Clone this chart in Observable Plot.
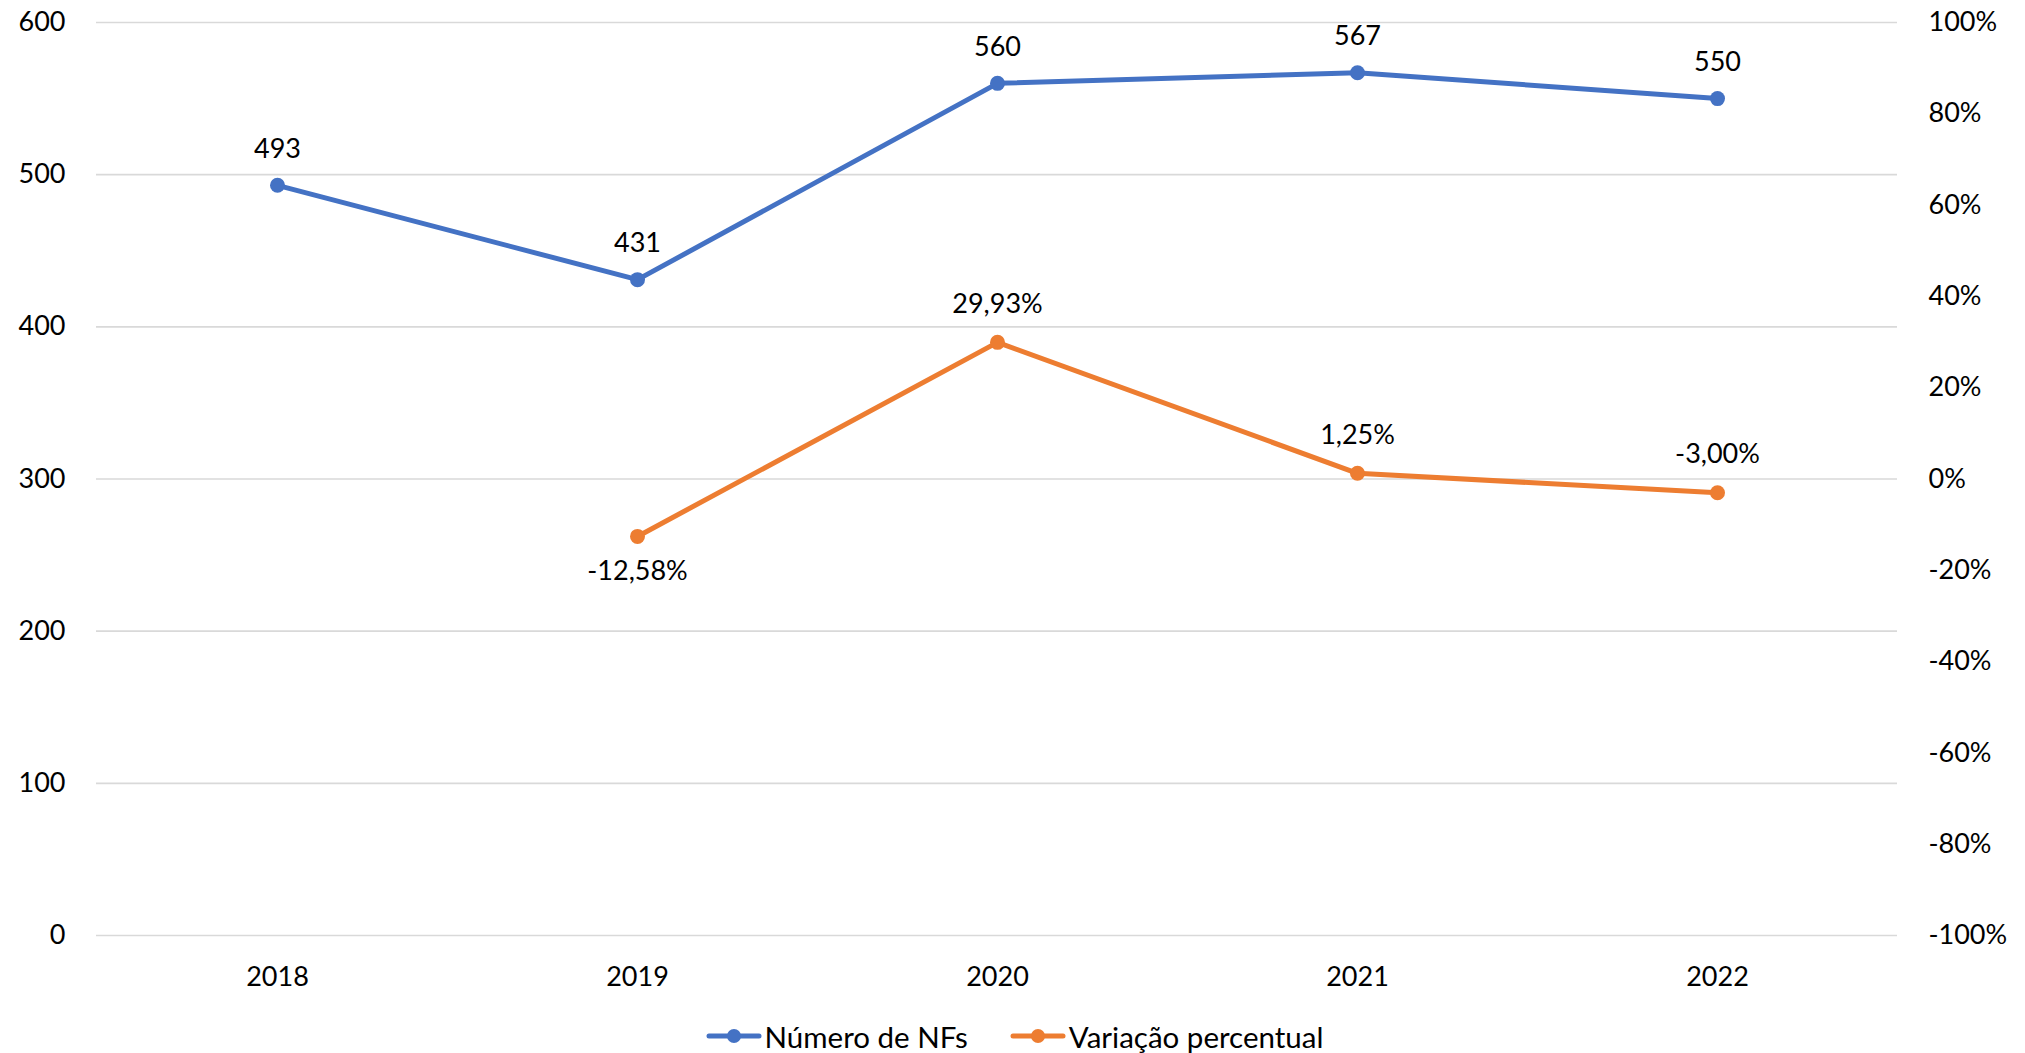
<!DOCTYPE html>
<html>
<head>
<meta charset="utf-8">
<script src="https://cdn.jsdelivr.net/npm/d3@7"></script>
<script src="https://cdn.jsdelivr.net/npm/@observablehq/plot@0.6"></script>
<style>
  html, body { margin: 0; padding: 0; background: #fff; }
  body { width: 2025px; height: 1053px; overflow: hidden; font-family: Lato, "Noto Sans", sans-serif; }
  #legend { display: flex; justify-content: center; align-items: center; height: 52px; font-size: 29.5px; color: #000; margin-left: 4px; }
  .item { display: flex; align-items: center; margin: 0 21px; }
  .item svg { margin-right: 3px; }
</style>
</head>
<body>
<div id="chart"></div>
<div id="legend"></div>
<script>
const years = ["2018", "2019", "2020", "2021", "2022"];
const nfs = [493, 431, 560, 567, 550];
const variacao = [null, -12.58, 29.93, 1.25, -3.00];
const leftTicks = [0, 100, 200, 300, 400, 500, 600];
const rightTicks = [-100, -80, -60, -40, -20, 0, 20, 40, 60, 80, 100];
const seriesNames = ["Número de NFs", "Variação percentual"];
const colors = ["#4472C4", "#ED7D31"];

// map percentage onto the left scale's domain (−100%..100% ↔ 0..600)
const pctToLeft = p => (p + 100) * 3;
const leftToPct = v => v / 3 - 100;

const blue = years.map((y, i) => ({year: y, v: nfs[i], label: String(nfs[i])}));
const orange = years.map((y, i) => ({year: y, p: variacao[i]}))
  .filter(d => d.p != null)
  .map(d => ({year: d.year, v: pctToLeft(d.p), label: d.p.toFixed(2).replace(".", ",") + "%", below: d.p === -12.58}));

const chart = Plot.plot({
  width: 2025,
  height: 1010,
  marginLeft: 96,
  marginRight: 128,
  marginTop: 22,
  marginBottom: 75,
  style: {fontFamily: "Lato, 'Noto Sans', sans-serif", fontSize: "27px", color: "#000", background: "#fff"},
  x: {type: "point", domain: years, padding: 0.5},
  y: {domain: [0, 600]},
  marks: [
    Plot.ruleY(leftTicks, {stroke: "#D9D9D9", strokeWidth: 1.6}),
    Plot.axisY(leftTicks, {anchor: "left", tickSize: 0, tickPadding: 31, fontSize: 27, label: null}),
    Plot.axisY(rightTicks.map(pctToLeft), {anchor: "right", tickSize: 0, tickPadding: 31, fontSize: 27, label: null, textAnchor: "start",
      tickFormat: v => Math.round(leftToPct(v)) + "%"}),
    Plot.axisX(years, {anchor: "bottom", tickSize: 0, tickPadding: 31, fontSize: 27, label: null}),
    Plot.line(blue, {x: "year", y: "v", stroke: colors[0], strokeWidth: 5, strokeLinejoin: "round"}),
    Plot.dot(blue, {x: "year", y: "v", r: 7.5, fill: colors[0]}),
    Plot.line(orange, {x: "year", y: "v", stroke: colors[1], strokeWidth: 5, strokeLinejoin: "round"}),
    Plot.dot(orange, {x: "year", y: "v", r: 7.5, fill: colors[1]}),
    Plot.text(blue, {x: "year", y: "v", text: "label", dy: -36, fontSize: 27, fill: "#000", lineAnchor: "middle"}),
    Plot.text(orange, {x: "year", y: "v", text: "label", fontSize: 27, fill: "#000", lineAnchor: "middle",
      filter: d => !d.below, dy: -38}),
    Plot.text(orange, {x: "year", y: "v", text: "label", fontSize: 27, fill: "#000", lineAnchor: "middle",
      filter: d => d.below, dy: 35})
  ]
});
document.getElementById("chart").appendChild(chart);

const legend = document.getElementById("legend");
seriesNames.forEach((name, i) => {
  const item = document.createElement("div");
  item.className = "item";
  item.innerHTML = `<svg width="56" height="20"><line x1="3" y1="10" x2="53" y2="10" stroke="${colors[i]}" stroke-width="5" stroke-linecap="round"/><circle cx="28" cy="10" r="7" fill="${colors[i]}"/></svg><span>${name}</span>`;
  legend.appendChild(item);
});
</script>
</body>
</html>
